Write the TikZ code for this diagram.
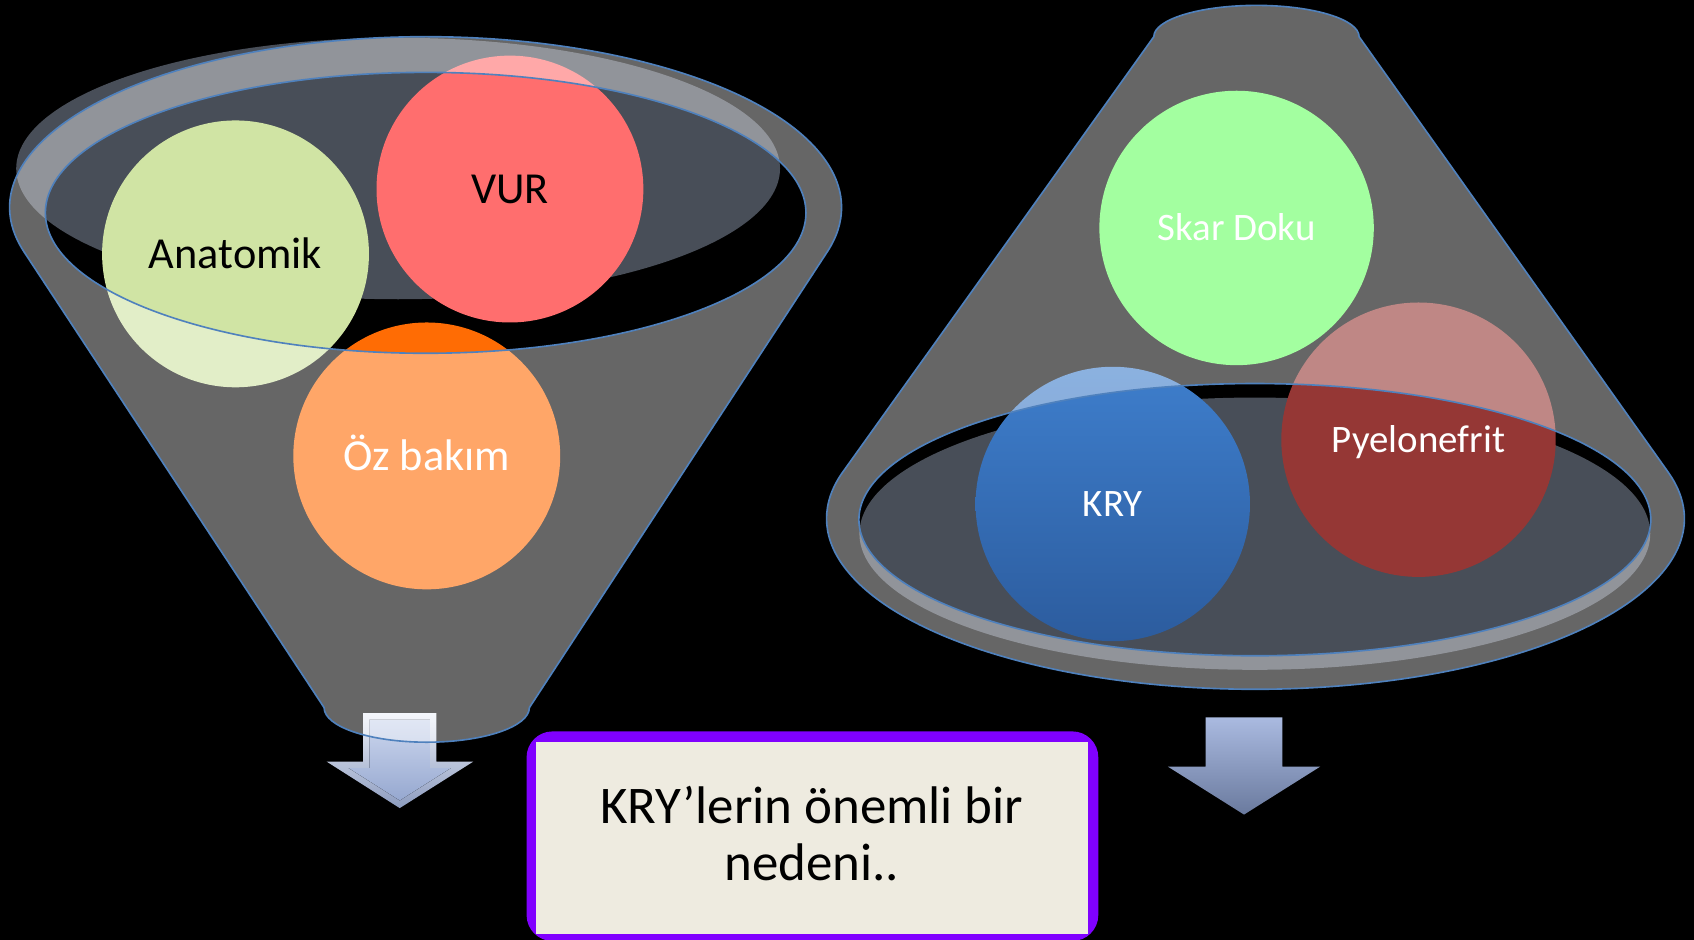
\documentclass[tikz,border=0pt]{standalone}
\usepackage{fontspec}
\setmainfont{Carlito}
\definecolor{outlineblue}{RGB}{79,129,189}
\definecolor{slate}{RGB}{72,78,88}
\definecolor{anatgreen}{RGB}{208,228,164}
\definecolor{vurred}{RGB}{255,110,110}
\definecolor{ozorange}{RGB}{255,108,4}
\definecolor{skargreen}{RGB}{103,255,97}
\definecolor{krytop}{RGB}{62,126,204}
\definecolor{krybot}{RGB}{44,92,158}
\definecolor{pyelred}{RGB}{149,55,53}
\definecolor{boxcream}{RGB}{238,235,224}
\definecolor{boxpurple}{RGB}{128,0,255}
\definecolor{arrowtop}{RGB}{170,186,224}
\definecolor{arrowbot}{RGB}{106,122,158}
\definecolor{bevedgetop}{RGB}{238,242,250}
\definecolor{bevedgebot}{RGB}{140,155,190}
\definecolor{bevarrowtop}{RGB}{205,215,238}
\definecolor{bevarrowbot}{RGB}{150,168,208}
\tikzset{
  ballL/.style={circle, inner sep=0pt, minimum size=247pt, font=\fontsize{41}{49}\selectfont,
    text height=26.4pt, text depth=0pt},
  ballR/.style={circle, inner sep=0pt, minimum size=254pt, font=\fontsize{36}{43}\selectfont,
    text=white, text height=23.2pt, text depth=0pt},
  wall/.style={fill=white, fill opacity=0.4, even odd rule},
  rim/.style={draw=outlineblue, line width=1.5pt},
  boxtext/.style={font=\fontsize{49}{53}\selectfont, anchor=base, inner sep=0pt},
}
\begin{document}
\begin{tikzpicture}[x=1pt,y=1pt]
\fill[black] (0,0) rectangle (1568,870);
\useasboundingbox (0,0) rectangle (1568,870);

% ---------- left funnel ----------
\fill[slate] (368.5,714) ellipse[x radius=353.5, y radius=121];
\node[ballL, fill=anatgreen] (anat) at (218,635) {Anatomik};
\node[ballL, fill=vurred] (vur) at (472,695) {VUR};
\node[ballL, fill=ozorange, text=white] (oz) at (395,448) {Öz bakım};
% bevelled arrow under the funnel
\fill[top color=bevedgetop, bottom color=bevedgebot]
  (336,210) -- (404,210) -- (404,165) -- (438,165) -- (370,122)
  -- (302.4,165) -- (336,165) -- cycle;
\fill[top color=bevarrowtop, bottom color=bevarrowbot]
  (342,204) -- (398,204) -- (398,159) -- (417.2,159) -- (370,129.1)
  -- (322.8,159) -- (342,159) -- cycle;
\path[wall] (22.1,637.1) arc[start angle=195, end angle=-15, x radius=385, y radius=158]
  -- (490,215) arc[start angle=0, end angle=-180, x radius=95, y radius=32] -- cycle
  (394,673) ellipse[x radius=352, y radius=130];
\draw[rim] (22.1,637.1) arc[start angle=195, end angle=-15, x radius=385, y radius=158]
  -- (490,215) arc[start angle=0, end angle=-180, x radius=95, y radius=32] -- cycle;
\draw[rim] (394,673) ellipse[x radius=352, y radius=130];

% ---------- right cone ----------
\fill[slate] (1161.5,376) ellipse[x radius=366, y radius=126];
\node[ballR, fill=skargreen] (skar) at (1144.6,659) {Skar Doku};
\node[ballR, top color=krytop, bottom color=krybot] (kry) at (1030,403.5) {KRY};
\node[ballR, fill=pyelred] (pyel) at (1313,463) {Pyelonefrit};
\path[wall] (1068,836) arc[start angle=180, end angle=0, x radius=95, y radius=29]
  -- (1544.4,432.5) arc[start angle=15.6, end angle=-195.6, x radius=397, y radius=158] -- cycle
  (1161.5,389) ellipse[x radius=366.5, y radius=126];
\draw[rim] (1068,836) arc[start angle=180, end angle=0, x radius=95, y radius=29]
  -- (1544.4,432.5) arc[start angle=15.6, end angle=-195.6, x radius=397, y radius=158] -- cycle;
\draw[rim] (1161.5,389) ellipse[x radius=366.5, y radius=126];

% ---------- right arrow ----------
\fill[top color=arrowtop, bottom color=arrowbot]
  (1116,206) -- (1187,206) -- (1187,160.4) -- (1222,160.4) -- (1151.5,116)
  -- (1081,160.4) -- (1116,160.4) -- cycle;

% ---------- text box ----------
\fill[boxpurple, rounded corners=24pt] (487.4,-1) rectangle (1016.6,193);
\fill[boxcream] (496,5.5) rectangle (1007,183.5);
\node[boxtext] (line1) at (751.5,107.3) {KRY’lerin önemli bir};
\node[boxtext] (line2) at (751.5,55) {nedeni..};
\end{tikzpicture}
\end{document}
